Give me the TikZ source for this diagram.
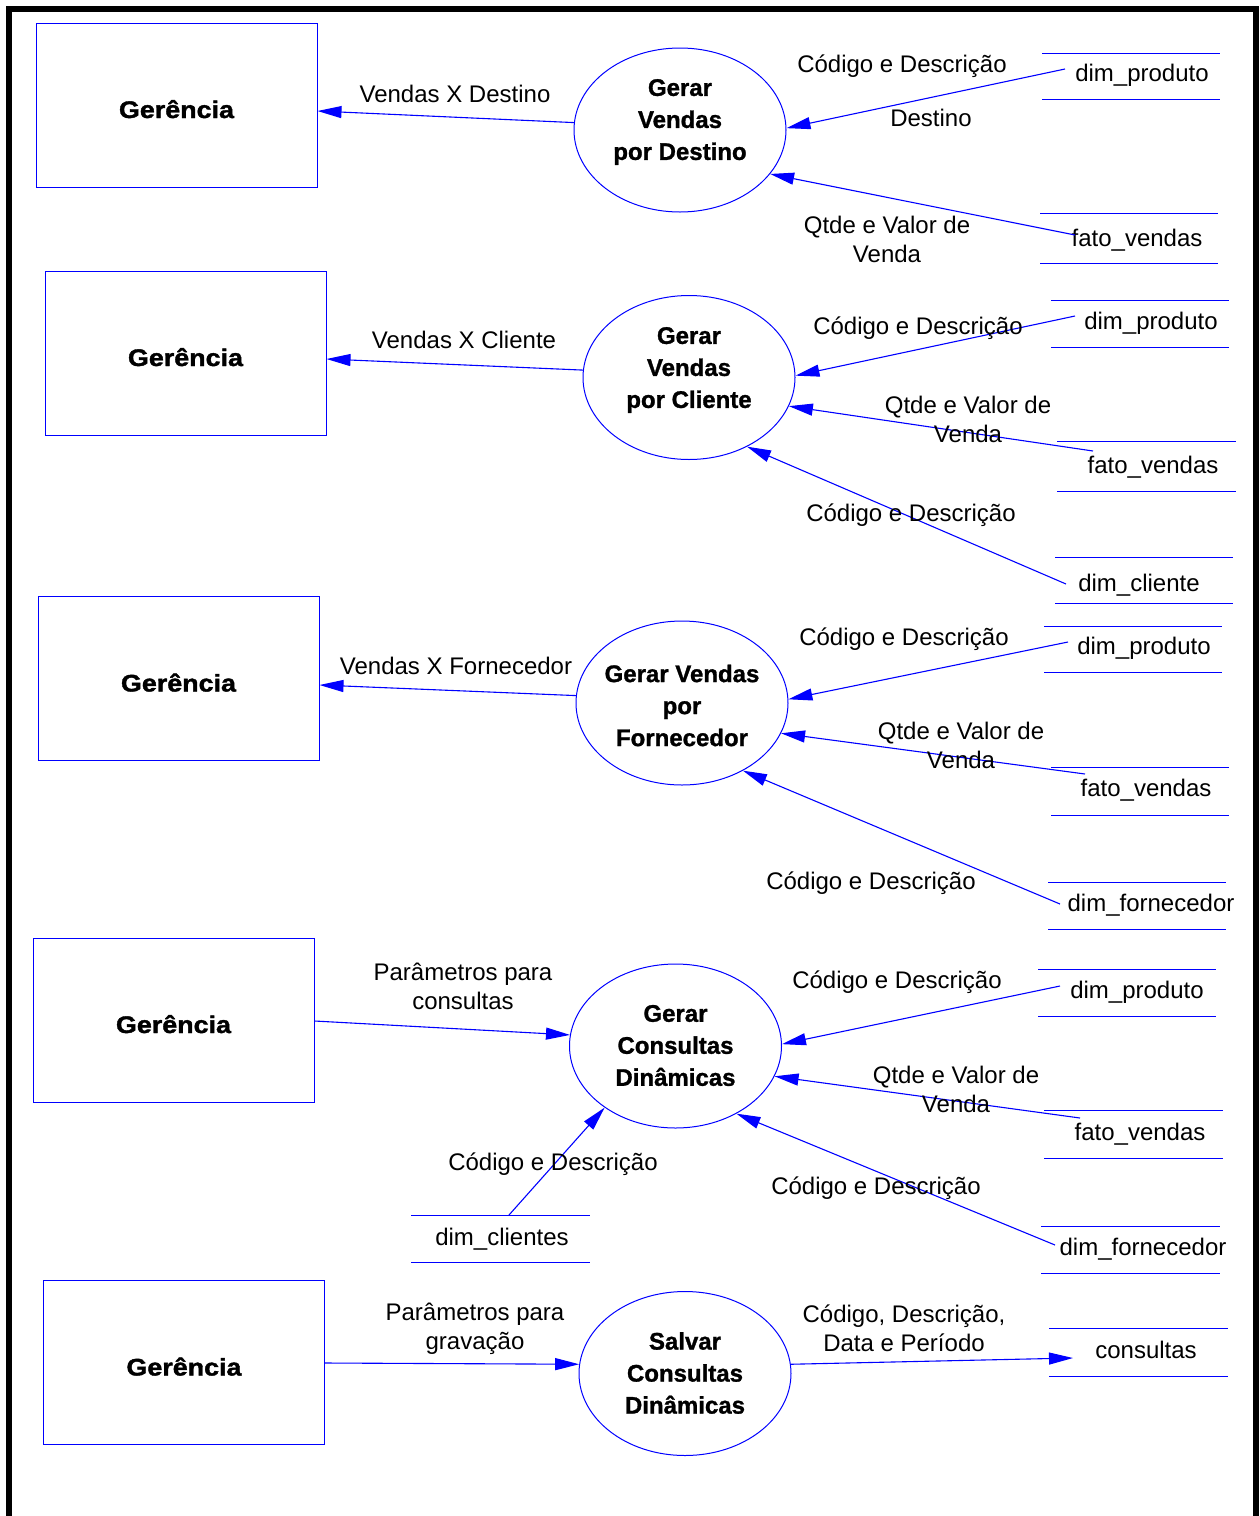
\documentclass[tikz,border=0pt]{standalone}
\usepackage{fontspec}
\setmainfont{Liberation Sans}
\newfontfamily\gerfont{Liberation Sans Bold}[FakeStretch=1.12,FakeBold=1.6]
\newfontfamily\procfont{Liberation Sans Bold}[FakeBold=1.2]
\usetikzlibrary{arrows.meta,shapes.geometric}

\begin{document}
\begin{tikzpicture}[x=1pt,y=-1pt,
  flow/.style={draw=blue, line width=1.1pt, -{Triangle[length=24pt,width=12pt]}},
  entity/.style={draw=blue, line width=1pt, minimum width=281pt, minimum height=164pt,
    inner sep=0pt, font=\gerfont\fontsize{24}{29}\selectfont, text height=26pt, text depth=0pt},
  proc/.style={ellipse, draw=blue, line width=1pt, minimum width=212pt,
    minimum height=164pt, inner sep=0pt},
  proctext/.style={font=\procfont\fontsize{24}{32}\selectfont, align=center, inner sep=0pt},
  lbl/.style={font=\fontsize{24}{29}\selectfont, align=center, inner sep=0pt},
  storetext/.style={font=\fontsize{24}{29}\selectfont, inner sep=0pt},
  storeline/.style={draw=blue, line width=1pt},
]
\fill[white] (0,0) rectangle (1259,1516);
\useasboundingbox (0,0) rectangle (1259,1516);

% outer frame (open at the bottom)
\draw[line width=6pt] (9,1520) -- (9,9) -- (1255.5,9) -- (1255.5,1520);

% ---------- Gerar Vendas por Destino ----------
\node[entity] (g1) at (176.5,105) {Gerência};
\node[proc] (p1) at (680,130) {};
\node[proctext] (p1t) at (680,122) {Gerar\\Vendas\\por Destino};
\node[storetext] (s1a) at (1142,75) {dim\_produto};
\draw[storeline] (1042,53) -- (1220,53) (1042,99) -- (1220,99);
\node[storetext] (s1b) at (1137,240) {fato\_vendas};
\draw[storeline] (1040,213) -- (1218,213) (1040,263) -- (1218,263);

\draw[flow] (p1.176) -- ([shift={(0,6)}]g1.east);
\draw[flow] ([shift={(-77,-6)}]s1a.center) -- (p1.1);
\draw[flow] ([shift={(-62,-5)}]s1b.center) -- (p1.334);
\node[lbl] (l1a) at (455,94) {Vendas X Destino};
\node[lbl] (l1b) at (902,66) {Código e Descrição};
\node[lbl] (l1c) at (931,118) {Destino};
\node[lbl] (l1d) at (887,239) {Qtde e Valor de\\Venda};

% ---------- Gerar Vendas por Cliente ----------
\node[entity] (g2) at (185.5,353) {Gerência};
\node[proc] (p2) at (689,377.5) {};
\node[proctext] (p2t) at (689,370) {Gerar\\Vendas\\por Cliente};
\node[storetext] (s2a) at (1151,323) {dim\_produto};
\draw[storeline] (1051,300) -- (1229,300) (1051,347) -- (1229,347);
\node[storetext] (s2b) at (1153,467) {fato\_vendas};
\draw[storeline] (1057,441) -- (1236,441) (1057,491) -- (1236,491);
\node[storetext] (s2c) at (1139,585) {dim\_cliente};
\draw[storeline] (1055,557) -- (1233,557) (1055,603) -- (1233,603);

\draw[flow] (p2.176) -- ([shift={(0,6)}]g2.east);
\draw[flow] ([shift={(-76,-7)}]s2a.center) -- (p2.1);
\draw[flow] ([shift={(-60,-16)}]s2b.center) -- (p2.344);
\draw[flow] ([shift={(-73,-1)}]s2c.center) -- (p2.310);
\node[lbl] (l2a) at (464,340) {Vendas X Cliente};
\node[lbl] (l2b) at (918,328) {Código e Descrição};
\node[lbl] (l2c) at (968,419) {Qtde e Valor de\\Venda};
\node[lbl] (l2d) at (911,515) {Código e Descrição};

% ---------- Gerar Vendas por Fornecedor ----------
\node[entity] (g3) at (178.5,678.5) {Gerência};
\node[proc] (p3) at (682,703) {};
\node[proctext] (p3t) at (682,705.5) {Gerar Vendas\\por\\Fornecedor};
\node[storetext] (s3a) at (1144,648) {dim\_produto};
\draw[storeline] (1044,626) -- (1222,626) (1044,672) -- (1222,672);
\node[storetext] (s3b) at (1146,790) {fato\_vendas};
\draw[storeline] (1051,767) -- (1229,767) (1051,815) -- (1229,815);
\node[storetext] (s3c) at (1151,905) {dim\_fornecedor};
\draw[storeline] (1048,882) -- (1226,882) (1048,929) -- (1226,929);

\draw[flow] (p3.176) -- ([shift={(0,6.5)}]g3.east);
\draw[flow] ([shift={(-76,-6)}]s3a.center) -- (p3.2);
\draw[flow] ([shift={(-61,-16)}]s3b.center) -- (p3.343);
\draw[flow] ([shift={(-91,-1)}]s3c.center) -- (p3.312);
\node[lbl] (l3a) at (456,666) {Vendas X Fornecedor};
\node[lbl] (l3b) at (904,639) {Código e Descrição};
\node[lbl] (l3c) at (961,745) {Qtde e Valor de\\Venda};
\node[lbl] (l3d) at (871,883) {Código e Descrição};

% ---------- Gerar Consultas Dinâmicas ----------
\node[entity] (g4) at (173.5,1020) {Gerência};
\node[proc] (p4) at (675.5,1046) {};
\node[proctext] (p4t) at (675.5,1045.5) {Gerar\\Consultas\\Dinâmicas};
\node[storetext] (s4a) at (1137,992) {dim\_produto};
\draw[storeline] (1038,969) -- (1216,969) (1038,1016) -- (1216,1016);
\node[storetext] (s4b) at (1140,1134) {fato\_vendas};
\draw[storeline] (1044,1110) -- (1223,1110) (1044,1158) -- (1223,1158);
\node[storetext] (s4c) at (1143,1249) {dim\_fornecedor};
\draw[storeline] (1041,1226) -- (1220,1226) (1041,1273) -- (1220,1273);
\node[storetext] (s4d) at (502,1239) {dim\_clientes};
\draw[storeline] (411,1215) -- (590,1215) (411,1262) -- (590,1262);

\draw[flow] ([shift={(0,1)}]g4.east) -- (p4.174.6);
\draw[flow] ([shift={(-77,-6)}]s4a.center) -- (p4.1);
\draw[flow] ([shift={(-60,-16)}]s4b.center) -- (p4.343);
\draw[flow] ([shift={(-88,-4)}]s4c.center) -- (p4.312);
\draw[flow] ([shift={(7,-24)}]s4d.center) -- (p4.221);
\node[lbl] (l4a) at (463,986) {Parâmetros para\\consultas};
\node[lbl] (l4b) at (897,982) {Código e Descrição};
\node[lbl] (l4c) at (956,1089) {Qtde e Valor de\\Venda};
\node[lbl] (l4d) at (876,1188) {Código e Descrição};
\node[lbl] (l4e) at (553,1164) {Código e Descrição};

% ---------- Salvar Consultas Dinâmicas ----------
\node[entity] (g5) at (184,1362.5) {Gerência};
\node[proc] (p5) at (685,1373.5) {};
\node[proctext] (p5t) at (685,1373) {Salvar\\Consultas\\Dinâmicas};
\node[storetext] (s5) at (1146,1350) {consultas};
\draw[storeline] (1049,1328) -- (1228,1328) (1049,1376) -- (1228,1376);

\draw[flow] ([shift={(0,0.5)}]g5.east) -- (p5.175.4);
\draw[flow] (p5.5.1) -- ([shift={(-73,8)}]s5.center);
\node[lbl] (l5a) at (475,1329) {Parâmetros para\\gravação};
\node[lbl] (l5b) at (904,1328) {Código, Descrição,\\Data e Período};
\end{tikzpicture}
\end{document}
